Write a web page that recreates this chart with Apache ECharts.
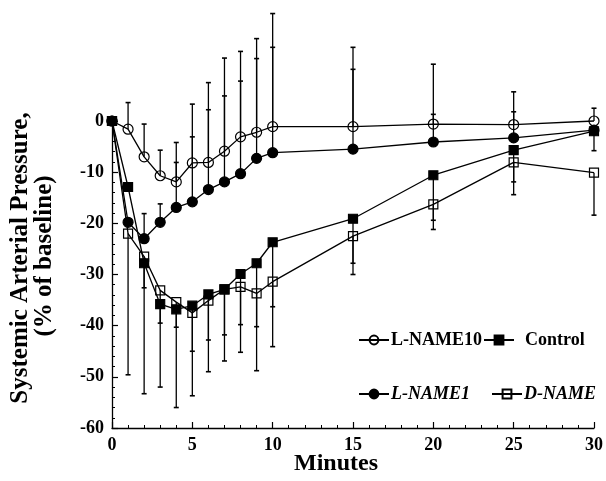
<!DOCTYPE html>
<html>
<head>
<meta charset="utf-8">
<script src="https://cdn.jsdelivr.net/npm/echarts@6/dist/echarts.min.js"></script>
<style>html,body{margin:0;padding:0;background:#fff}#c{width:606px;height:481px}</style>
</head>
<body>
<div id="c"></div>
<script>
var minutes = [0,1,2,3,4,5,6,7,8,9,10,15,20,25,30];
var xTicks = [0,5,10,15,20,25,30];
var yTicks = [0,-10,-20,-30,-40,-50,-60];

var lname10 = [0,-1.6,-7.0,-10.7,-11.9,-8.2,-8.1,-5.9,-3.1,-2.2,-1.1,-1.1,-0.6,-0.7,0];
var lname10Upper = [null,3.6,-0.6,-5.7,-4.2,3.3,7.5,12.3,13.6,16.1,21.0,14.4,11.1,5.7,2.5];

var lname1 = [0,-19.8,-23.0,-19.8,-16.9,-15.8,-13.4,-11.9,-10.3,-7.3,-6.2,-5.5,-4.1,-3.3,-1.8];
var lname1Upper = [null,null,-18.1,-16.2,-8.1,-3.1,2.2,4.9,7.8,12.2,14.4,10.1,1.3,1.8,null];

var control = [0,-12.9,-27.8,-35.8,-36.8,-36.1,-33.9,-32.9,-29.9,-27.8,-23.7,-19.1,-10.6,-5.7,-2.0];
var controlLower = [null,null,-32.6,-39.5,-40.3,-45.0,-42.8,-41.8,-39.8,-40.2,-36.3,-27.8,-19.4,-11.9,-5.8];

var dname = [0,-22.0,-26.5,-33.1,-35.4,-37.5,-35.1,-32.9,-32.4,-33.7,-31.4,-22.5,-16.3,-8.1,-10.1];
var dnameLower = [null,-49.6,-53.3,-52.0,-56.0,-53.7,-49.0,-46.9,-45.2,-48.8,-44.1,-30.0,-21.2,-14.4,-18.4];

var FONT = '"Liberation Serif", "Times New Roman", serif';

function pairs(ys){ return minutes.map(function(x,i){ return [x, ys[i]]; }); }
function errData(ys, ends){
  var out = [];
  minutes.forEach(function(x,i){ if (ends[i] != null) out.push([x, ys[i], ends[i]]); });
  return out;
}
function errSeries(name, ys, ends){
  return {
    type: 'custom', name: name + '_err', silent: true, z: 1,
    data: errData(ys, ends),
    encode: {x: 0, y: [1, 2]},
    renderItem: function(params, api){
      var x = api.value(0), y0 = api.value(1), y1 = api.value(2);
      var p0 = api.coord([x, y0]), p1 = api.coord([x, y1]);
      return {type: 'group', children: [
        {type: 'line', shape: {x1: p0[0], y1: p0[1], x2: p1[0], y2: p1[1]}, style: {stroke: '#000', lineWidth: 1.3}},
        {type: 'line', shape: {x1: p1[0]-2.5, y1: p1[1], x2: p1[0]+2.5, y2: p1[1]}, style: {stroke: '#000', lineWidth: 1.6}}
      ]};
    }
  };
}
function lineSeries(name, ys, symbol, size, filled){
  return {
    type: 'line', name: name, data: pairs(ys), clip: false, z: 3,
    symbol: symbol, symbolSize: size, showAllSymbol: true,
    lineStyle: {color: '#000', width: 1.3},
    itemStyle: {color: filled ? '#000' : 'rgba(0,0,0,0)', borderColor: '#000', borderWidth: 1.2},
    emphasis: {disabled: true}
  };
}
function leg(name, left, top, italic, gap){
  return {
    data: [name], left: left, top: top, itemWidth: 30, itemHeight: 11, itemGap: 0,
    selectedMode: false, padding: 0,
    textStyle: {fontFamily: FONT, fontWeight: 'bold', fontSize: 18, color: '#000', fontStyle: italic ? 'italic' : 'normal', padding: [0,0,0,gap]}
  };
}

var chart = echarts.init(document.getElementById('c'));
chart.setOption({
  animation: false,
  backgroundColor: '#fff',
  grid: {left: 112, right: 11, top: 121, bottom: 53, containLabel: false},
  xAxis: {
    type: 'value', min: 0, max: 30, interval: 5,
    axisLine: {onZero: false, lineStyle: {color: '#000', width: 1.3}},
    axisTick: {inside: true, length: 6, lineStyle: {color: '#000', width: 1.2}},
    minorTick: {show: true, splitNumber: 5, length: 3, lineStyle: {color: '#000', width: 1}},
    splitLine: {show: false},
    axisLabel: {margin: 8, fontFamily: FONT, fontWeight: 'bold', fontSize: 18, color: '#000',
      formatter: function(v){ return xTicks.indexOf(v) >= 0 ? String(v) : ''; }}
  },
  yAxis: {
    type: 'value', min: -60, max: 0, interval: 10,
    axisLine: {show: true, onZero: false, lineStyle: {color: '#000', width: 1.3}},
    axisTick: {show: true, inside: true, length: 6, lineStyle: {color: '#000', width: 1.2}},
    minorTick: {show: true, splitNumber: 5, length: 3, lineStyle: {color: '#000', width: 1}},
    splitLine: {show: false},
    axisLabel: {margin: 8, fontFamily: FONT, fontWeight: 'bold', fontSize: 18, color: '#000',
      formatter: function(v){ return yTicks.indexOf(v) >= 0 ? String(v) : ''; }}
  },
  legend: [
    leg('L-NAME10', 358, 331, false, -3),
    leg('Control', 483, 331, false, 6),
    leg('L-NAME1', 358, 385, true, -3),
    leg('D-NAME', 491, 385, true, -3)
  ],
  graphic: [
    {type: 'text', x: 294, y: 452, style: {text: 'Minutes', font: 'bold 24px ' + FONT, fill: '#000'}},
    {type: 'text', rotation: Math.PI/2, x: 8, y: 258,
      style: {text: 'Systemic Arterial Pressure,', font: 'bold 25px ' + FONT, fill: '#000', align: 'center', verticalAlign: 'top'}},
    {type: 'text', rotation: Math.PI/2, x: 32, y: 256,
      style: {text: '(% of baseline)', font: 'bold 25px ' + FONT, fill: '#000', align: 'center', verticalAlign: 'top'}}
  ],
  series: [
    errSeries('L-NAME10', lname10, lname10Upper),
    errSeries('L-NAME1', lname1, lname1Upper),
    errSeries('Control', control, controlLower),
    errSeries('D-NAME', dname, dnameLower),
    lineSeries('L-NAME10', lname10, 'circle', 10, false),
    lineSeries('L-NAME1', lname1, 'circle', 10, true),
    lineSeries('Control', control, 'rect', 9, true),
    lineSeries('D-NAME', dname, 'rect', 9, false)
  ]
});
</script>
</body>
</html>
